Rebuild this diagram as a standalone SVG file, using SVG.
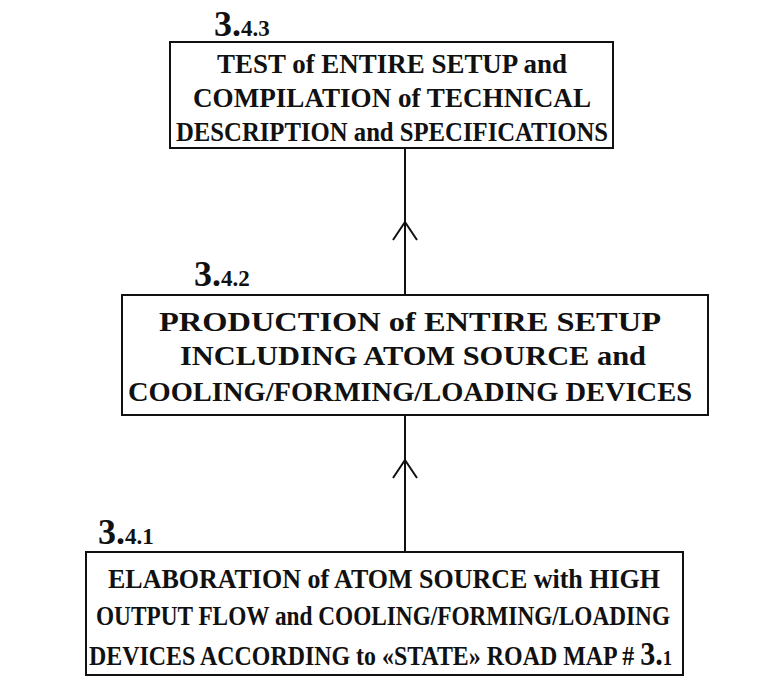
<svg xmlns="http://www.w3.org/2000/svg" width="768" height="685" viewBox="0 0 768 685">
<style>
.box{fill:#fff;stroke:#111;stroke-width:2}
.t{font-family:"Liberation Serif","Times New Roman",serif;font-weight:bold;font-size:27px;fill:#111;text-anchor:middle}
.n{font-family:"Liberation Serif","Times New Roman",serif;font-weight:bold;fill:#111}
.big{font-size:36px}
.sm{font-size:23px}
.ln{stroke:#111;stroke-width:2;fill:none}
</style>
<rect width="768" height="685" fill="#fff"/>
<g id="connectors">
<line class="ln" x1="405" y1="148" x2="405" y2="295"/>
<polyline class="ln" points="393,240 405,222 417,240"/>
<line class="ln" x1="405" y1="415" x2="405" y2="552"/>
<polyline class="ln" points="393,478 405,460 417,478"/>
</g>
<g id="node-343">
<rect class="box" x="170" y="42" width="443" height="106"/>
<text class="n" x="214" y="36"><tspan class="big">3.</tspan><tspan class="sm">4.3</tspan></text>
<text class="t" x="392" y="73" textLength="350" lengthAdjust="spacingAndGlyphs">TEST of ENTIRE SETUP and</text>
<text class="t" x="392" y="107" textLength="398" lengthAdjust="spacingAndGlyphs">COMPILATION of TECHNICAL</text>
<text class="t" x="392" y="141" textLength="432" lengthAdjust="spacingAndGlyphs">DESCRIPTION and SPECIFICATIONS</text>
</g>
<g id="node-342">
<rect class="box" x="122" y="295" width="586" height="120"/>
<text class="n" x="194" y="286"><tspan class="big">3.</tspan><tspan class="sm">4.2</tspan></text>
<text class="t" x="410" y="331" textLength="502" lengthAdjust="spacingAndGlyphs">PRODUCTION of ENTIRE SETUP</text>
<text class="t" x="413" y="365" textLength="466" lengthAdjust="spacingAndGlyphs">INCLUDING ATOM SOURCE and</text>
<text class="t" x="410" y="401" textLength="564" lengthAdjust="spacingAndGlyphs">COOLING/FORMING/LOADING DEVICES</text>
</g>
<g id="node-341">
<rect class="box" x="86" y="552" width="597" height="123"/>
<text class="n" x="98" y="544"><tspan class="big">3.</tspan><tspan class="sm">4.1</tspan></text>
<text class="t" x="384" y="588" textLength="552" lengthAdjust="spacingAndGlyphs">ELABORATION of ATOM SOURCE with HIGH</text>
<text class="t" x="383" y="625" textLength="574" lengthAdjust="spacingAndGlyphs">OUTPUT FLOW and COOLING/FORMING/LOADING</text>
<text class="t" style="text-anchor:start" transform="translate(89,665) scale(0.886,1)">DEVICES ACCORDING to «STATE» ROAD MAP # <tspan font-size="34px">3.</tspan><tspan font-size="21px">1</tspan></text>
</g>
</svg>
